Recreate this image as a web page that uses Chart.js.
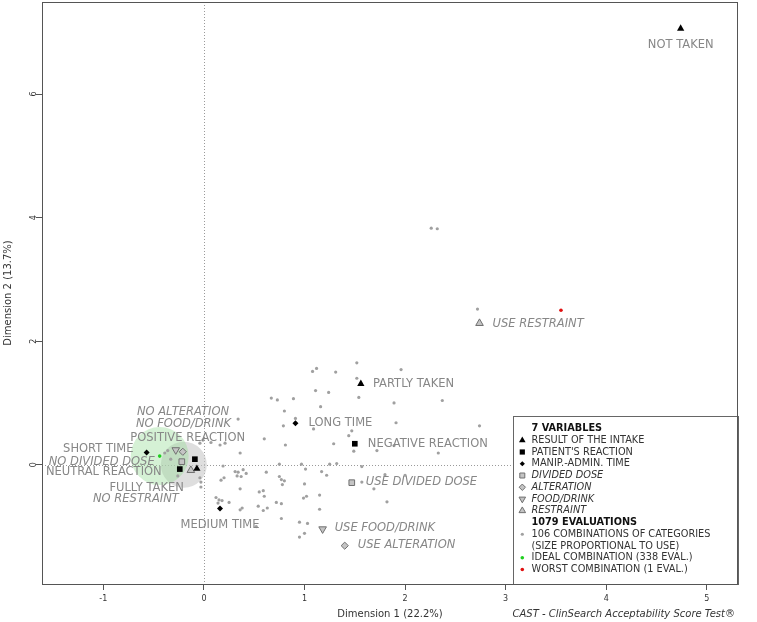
<!DOCTYPE html>
<html><head><meta charset="utf-8">
<script src="https://cdn.jsdelivr.net/npm/chart.js@4.4.1/dist/chart.umd.min.js"></script>
<style>html,body{margin:0;padding:0;background:#fff;}#wrap{width:757px;height:622px;position:relative;}</style>
</head><body><div id="wrap"><canvas id="c" width="757" height="622"></canvas></div>
<script>
// ---------- data ----------
const xTickValues = [-1, 0, 1, 2, 3, 4, 5];
const yTickValues = [0, 2, 4, 6];

const intakeCats = ['NOT TAKEN', 'PARTLY TAKEN', 'FULLY TAKEN'];
const intakeX = [4.74, 1.56, -0.07];
const intakeY = [7.06, 1.31, -0.065];

const reactionCats = ['NEGATIVE REACTION', 'POSITIVE REACTION', 'NEUTRAL REACTION'];
const reactionX = [1.50, -0.09, -0.24];
const reactionY = [0.34, 0.09, -0.07];

const timeCats = ['LONG TIME', 'SHORT TIME', 'MEDIUM TIME'];
const timeX = [0.91, -0.57, 0.16];
const timeY = [0.67, 0.20, -0.71];

const doseCats = ['USE DIVIDED DOSE', 'NO DIVIDED DOSE'];
const doseX = [1.47, -0.22];
const doseY = [-0.29, 0.05];

const alterCats = ['USE ALTERATION', 'NO ALTERATION'];
const alterX = [1.40, -0.21];
const alterY = [-1.31, 0.21];

const foodCats = ['USE FOOD/DRINK', 'NO FOOD/DRINK'];
const foodX = [1.18, -0.28];
const foodY = [-1.04, 0.24];

const restraintCats = ['USE RESTRAINT', 'NO RESTRAINT'];
const restraintX = [2.74, -0.13];
const restraintY = [2.29, -0.09];

const idealX = [-0.44], idealY = [0.14];
const worstX = [3.55], worstY = [2.50];
const commonX = [-0.20], commonY = [0.0];

const comboX = [-0.39,-0.36,-0.33,-0.26,-0.04,-0.01,0.07,0.16,0.21,-0.04,-0.03,-0.03,0.19,0.34,0.36,0.60,0.31,0.34,0.39,0.42,
  0.37,0.33,0.17,0.20,0.36,0.12,0.15,0.14,0.18,0.25,0.55,0.59,0.60,0.36,0.38,0.54,0.59,0.63,0.52,0.72,
  0.77,0.77,0.95,1.03,1.00,0.95,1.15,1.15,1.02,0.99,1.00,0.75,0.77,0.80,0.78,0.75,0.97,1.01,1.17,1.22,
  1.25,1.32,1.57,1.57,1.69,1.80,2.00,1.82,0.62,1.12,1.08,1.31,1.52,1.96,1.52,1.11,1.24,1.54,0.67,0.73,
  0.89,1.89,2.37,1.16,0.80,0.91,0.79,1.09,1.47,1.44,1.91,2.74,0.81,1.29,1.49,1.72,1.89,2.33,2.26,2.32,2.72];
const comboY = [0.19,0.23,0.09,-0.18,0.35,0.40,0.36,0.32,0.35,-0.21,-0.28,-0.36,-0.02,0.74,0.19,0.42,-0.11,-0.12,-0.08,-0.14,
  -0.19,-0.18,-0.25,-0.21,-0.39,-0.53,-0.57,-0.62,-0.58,-0.61,-0.44,-0.42,-0.51,-0.73,-0.70,-0.67,-0.74,-0.70,-1.00,-0.61,
  -0.63,-0.87,-0.93,-0.95,-1.11,-1.17,-0.72,-0.49,-0.51,-0.54,-0.31,-0.19,-0.24,-0.26,-0.32,0.01,0.01,-0.07,-0.11,-0.17,
  0.01,0.02,-0.03,-0.28,-0.39,-0.16,-0.17,-0.60,-0.12,1.56,1.51,1.50,1.65,1.54,1.40,1.20,1.17,1.09,1.08,1.05,
  1.07,1.00,1.04,0.94,0.87,0.75,0.63,0.58,0.55,0.47,0.68,0.63,0.32,0.34,0.22,0.23,0.31,0.19,3.83,3.82,2.52];

// label anchors (text placement), [text, x, y, align, italic]
const labelPlacement = [
  ['NOT TAKEN', 4.74, 6.79, 'center', false],
  ['PARTLY TAKEN', 1.68, 1.30, 'left', false],
  ['FULLY TAKEN', -0.20, -0.37, 'right', false],
  ['NEGATIVE REACTION', 1.63, 0.34, 'left', false],
  ['POSITIVE REACTION', 0.41, 0.44, 'right', false],
  ['NEUTRAL REACTION', -0.42, -0.12, 'right', false],
  ['LONG TIME', 1.04, 0.67, 'left', false],
  ['SHORT TIME', -0.70, 0.25, 'right', false],
  ['MEDIUM TIME', 0.16, -0.97, 'center', false],
  ['USE DIVIDED DOSE', 1.61, -0.28, 'left', true],
  ['NO DIVIDED DOSE', -0.49, 0.05, 'right', true],
  ['USE ALTERATION', 1.53, -1.30, 'left', true],
  ['NO ALTERATION', 0.25, 0.85, 'right', true],
  ['USE FOOD/DRINK', 1.30, -1.03, 'left', true],
  ['NO FOOD/DRINK', 0.27, 0.66, 'right', true],
  ['USE RESTRAINT', 2.87, 2.28, 'left', true],
  ['NO RESTRAINT', -0.25, -0.55, 'right', true]
];

const legendRows = [
  ['7 VARIABLES', 'header'],
  ['RESULT OF THE INTAKE', 'intake'],
  ["PATIENT'S REACTION", 'reaction'],
  ['MANIP.-ADMIN. TIME', 'time'],
  ['DIVIDED DOSE', 'dose'],
  ['ALTERATION', 'alter'],
  ['FOOD/DRINK', 'food'],
  ['RESTRAINT', 'restraint'],
  ['1079 EVALUATIONS', 'header'],
  ['106 COMBINATIONS OF CATEGORIES', 'combo'],
  ['(SIZE PROPORTIONAL TO USE)', 'none'],
  ['IDEAL COMBINATION (338 EVAL.)', 'ideal'],
  ['WORST COMBINATION (1 EVAL.)', 'worst']
];

// ---------- helpers ----------
const pts = (xs, ys) => xs.map((v, i) => ({x: v, y: ys[i]}));
const FONT = '"DejaVu Sans", sans-serif';
const GREY_FILL = '#c4c4c4', GREY_LINE = '#707070';

function drawSym(ctx, kind, x, y) {
  ctx.save();
  ctx.lineWidth = 1;
  const tri = (r, down) => {
    ctx.beginPath();
    const s = down ? -1 : 1;
    ctx.moveTo(x, y - s * r);
    ctx.lineTo(x + r * 0.866, y + s * r * 0.5);
    ctx.lineTo(x - r * 0.866, y + s * r * 0.5);
    ctx.closePath();
  };
  const dia = (r) => { ctx.beginPath(); ctx.moveTo(x, y - r); ctx.lineTo(x + r, y); ctx.lineTo(x, y + r); ctx.lineTo(x - r, y); ctx.closePath(); };
  switch (kind) {
    case 'intake': ctx.fillStyle = '#000'; tri(3.8, false); ctx.fill(); break;
    case 'reaction': ctx.fillStyle = '#000'; ctx.fillRect(x - 2.6, y - 2.6, 5.2, 5.2); break;
    case 'time': ctx.fillStyle = '#000'; dia(2.6); ctx.fill(); break;
    case 'dose': ctx.fillStyle = GREY_FILL; ctx.strokeStyle = GREY_LINE; ctx.beginPath(); ctx.rect(x - 2.5, y - 2.5, 5, 5); ctx.fill(); ctx.stroke(); break;
    case 'alter': ctx.fillStyle = GREY_FILL; ctx.strokeStyle = GREY_LINE; dia(3.2); ctx.fill(); ctx.stroke(); break;
    case 'food': ctx.fillStyle = GREY_FILL; ctx.strokeStyle = GREY_LINE; tri(3.8, true); ctx.fill(); ctx.stroke(); break;
    case 'restraint': ctx.fillStyle = GREY_FILL; ctx.strokeStyle = GREY_LINE; tri(3.8, false); ctx.fill(); ctx.stroke(); break;
    case 'combo': ctx.fillStyle = '#a0a0a0'; ctx.beginPath(); ctx.arc(x, y, 1.6, 0, Math.PI * 2); ctx.fill(); break;
    case 'ideal': ctx.fillStyle = '#1fcf1f'; ctx.beginPath(); ctx.arc(x, y, 1.8, 0, Math.PI * 2); ctx.fill(); break;
    case 'worst': ctx.fillStyle = '#e01010'; ctx.beginPath(); ctx.arc(x, y, 1.8, 0, Math.PI * 2); ctx.fill(); break;
  }
  ctx.restore();
}

const overlay = {
  id: 'overlay',
  beforeDatasetsDraw(chart) {
    const {ctx, chartArea: a, scales: {x, y}} = chart;
    ctx.save();
    ctx.strokeStyle = '#9a9a9a'; ctx.lineWidth = 1; ctx.setLineDash([1, 2]);
    const x0 = Math.round(x.getPixelForValue(0)) + 0.5;
    const y0 = Math.round(y.getPixelForValue(0)) + 0.5;
    ctx.beginPath();
    ctx.moveTo(x0, a.top); ctx.lineTo(x0, a.bottom);
    ctx.moveTo(a.left, y0); ctx.lineTo(a.right, y0);
    ctx.stroke();
    ctx.restore();
  },
  afterDatasetsDraw(chart) {
    const {ctx, chartArea: a, scales: {x, y}} = chart;
    ctx.save();
    // point labels
    ctx.fillStyle = '#878787';
    ctx.textBaseline = 'middle';
    labelPlacement.forEach(([t, lx, ly, al, it]) => {
      ctx.font = (it ? 'oblique ' : '') + '11.5px ' + FONT;
      ctx.textAlign = al;
      ctx.fillText(t, x.getPixelForValue(lx), y.getPixelForValue(ly));
    });
    // legend box
    const L = a.right - 225, T = a.bottom - 168;
    ctx.fillStyle = '#fff';
    ctx.fillRect(L, T, a.right - L, a.bottom - T);
    ctx.strokeStyle = '#666'; ctx.lineWidth = 1;
    ctx.strokeRect(L + 0.5, T + 0.5, a.right - L, a.bottom - T);
    legendRows.forEach(([t, kind], i) => {
      const ty = T + 12.5 + i * 11.75;
      if (kind === 'header') { ctx.font = 'bold 9.75px ' + FONT; ctx.fillStyle = '#111'; }
      else {
        const it = ['dose', 'alter', 'food', 'restraint'].includes(kind);
        ctx.font = (it ? 'oblique ' : '') + '9.75px ' + FONT; ctx.fillStyle = '#333';
      }
      ctx.textAlign = 'left';
      ctx.fillText(t, L + 18.5, ty);
      if (kind !== 'header' && kind !== 'none') drawSym(ctx, kind, L + 9.3, ty);
    });
    // plot frame
    ctx.strokeStyle = '#555'; ctx.lineWidth = 1;
    ctx.strokeRect(a.left + 0.5, a.top + 0.5, a.width - 1, a.height);
    // axis titles and caption
    ctx.fillStyle = '#333';
    ctx.font = '10px ' + FONT;
    ctx.textAlign = 'center';
    ctx.fillText('Dimension 1 (22.2%)', (a.left + a.right) / 2, 614);
    ctx.save();
    ctx.translate(8, (a.top + a.bottom) / 2);
    ctx.rotate(-Math.PI / 2);
    ctx.fillText('Dimension 2 (13.7%)', 0, 0);
    ctx.restore();
    ctx.font = 'oblique 10px ' + FONT;
    ctx.textAlign = 'right';
    ctx.fillText('CAST - ClinSearch Acceptability Score Test\u00AE', 735, 614);
    ctx.restore();
  }
};

const blackMark = (label, data, style, r) => ({label, data, pointStyle: style, pointRadius: r,
  backgroundColor: '#000', borderColor: '#000', borderWidth: 0, order: 0});
const greyMark = (label, data, style, r, rot) => ({label, data, pointStyle: style, pointRadius: r, rotation: rot || 0,
  backgroundColor: GREY_FILL, borderColor: GREY_LINE, borderWidth: 1, order: 0});

const zeroPad = s => { s.paddingTop = 0; s.paddingBottom = 0; s.paddingLeft = 0; s.paddingRight = 0; };

new Chart(document.getElementById('c'), {
  type: 'scatter',
  data: {
    datasets: [
      blackMark('RESULT OF THE INTAKE', pts(intakeX, intakeY), 'triangle', 4.2),
      blackMark("PATIENT'S REACTION", pts(reactionX, reactionY), 'rect', 4.0),
      blackMark('MANIP.-ADMIN. TIME', pts(timeX, timeY), 'rectRot', 3.0),
      greyMark('DIVIDED DOSE', pts(doseX, doseY), 'rect', 4.0),
      greyMark('ALTERATION', pts(alterX, alterY), 'rectRot', 3.6),
      greyMark('FOOD/DRINK', pts(foodX, foodY), 'triangle', 4.4, 180),
      greyMark('RESTRAINT', pts(restraintX, restraintY), 'triangle', 4.4),
      {label: 'IDEAL', data: pts(idealX, idealY), pointRadius: 1.8, backgroundColor: '#1fcf1f', borderWidth: 0, order: 1},
      {label: 'WORST', data: pts(worstX, worstY), pointRadius: 1.8, backgroundColor: '#e01010', borderWidth: 0, order: 1},
      {label: 'COMBINATIONS', data: pts(comboX, comboY), pointRadius: 1.6, backgroundColor: '#a0a0a0', borderWidth: 0, order: 2},
      {label: 'IDEAL SIZE', data: pts(idealX, idealY), pointRadius: 29, backgroundColor: 'rgba(150,220,150,0.40)', borderWidth: 0, order: 3},
      {label: 'COMMON SIZE', data: pts(commonX, commonY), pointRadius: 23, backgroundColor: 'rgba(200,200,200,0.6)', borderWidth: 0, order: 4}
    ]
  },
  options: {
    responsive: false, animation: false, devicePixelRatio: 1, events: [],
    layout: {autoPadding: false, padding: {top: 2, right: 19, left: 0, bottom: 0}},
    plugins: {legend: {display: false}, tooltip: {enabled: false}, title: {display: false}},
    scales: {
      x: {
        type: 'linear', min: -1.61, max: 5.31,
        afterFit: s => { s.height = 38; zeroPad(s); },
        afterBuildTicks: s => { s.ticks = xTickValues.map(v => ({value: v})); },
        grid: {display: true, drawOnChartArea: false, drawTicks: true, tickLength: 6, color: '#555'},
        border: {display: false},
        ticks: {font: {family: 'DejaVu Sans', size: 8}, color: '#333', padding: 4, maxRotation: 0, autoSkip: false}
      },
      y: {
        type: 'linear', min: -1.93, max: 7.49,
        afterFit: s => { s.width = 42; zeroPad(s); },
        afterBuildTicks: s => { s.ticks = yTickValues.map(v => ({value: v})); },
        grid: {display: true, drawOnChartArea: false, drawTicks: true, tickLength: 6, color: '#555'},
        border: {display: false},
        ticks: {font: {family: 'DejaVu Sans', size: 8}, color: '#333', padding: 0, minRotation: 90, maxRotation: 90, crossAlign: 'center', autoSkip: false}
      }
    }
  },
  plugins: [overlay]
});
</script>
</body></html>
